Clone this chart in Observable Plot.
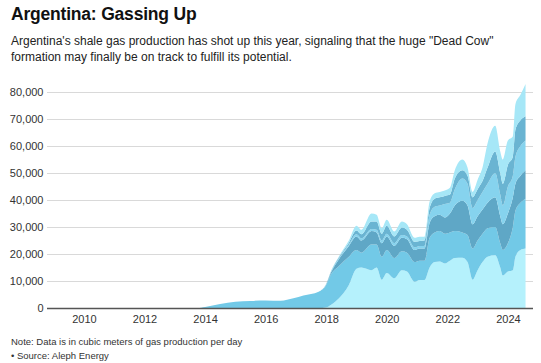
<!DOCTYPE html>
<html>
<head>
<meta charset="utf-8">
<script src="https://cdn.jsdelivr.net/npm/d3@7"></script>
<script src="https://cdn.jsdelivr.net/npm/@observablehq/plot@0.6"></script>
<style>
  html, body { margin: 0; padding: 0; background: #fff; }
  body { width: 541px; height: 363px; position: relative; overflow: hidden; font-family: "Liberation Sans", Arial, Helvetica, sans-serif; }
  #title { position: absolute; left: 11px; top: 4px; font-size: 17.5px; font-weight: bold; color: #111; letter-spacing: -0.2px; }
  #subtitle { position: absolute; left: 11px; top: 33px; font-size: 12px; line-height: 16px; color: #222; }
  #chart { position: absolute; left: 0; top: 70px; }
  #note { position: absolute; left: 11px; top: 335px; font-size: 9.5px; line-height: 14px; color: #333; }
</style>
</head>
<body>
<div id="title">Argentina: Gassing Up</div>
<div id="subtitle">Argentina's shale gas production has shot up this year, signaling that the huge "Dead Cow"<br>formation may finally be on track to fulfill its potential.</div>
<div id="chart"></div>
<div id="note">Note: Data is in cubic meters of gas production per day<br>• Source: Aleph Energy</div>
<script>
const dates = ["2008-11","2013-10","2014-01","2014-07","2015-01","2015-07","2016-01","2016-07","2016-12","2017-04","2017-10",
  "2018-01","2018-03","2018-06","2018-10","2019-01","2019-03","2019-07","2019-09","2019-11","2020-01","2020-04","2020-07","2020-09","2020-12",
  "2021-02","2021-04","2021-06","2021-08","2021-10","2021-12","2022-02","2022-04","2022-07","2022-09","2022-11",
  "2023-01","2023-03","2023-05","2023-08","2023-10","2023-11","2024-01","2024-03","2024-04","2024-06","2024-08"];

const layerNames = ["Layer 1","Layer 2","Layer 3","Layer 4","Layer 5","Layer 6"];
const layerColors = ["#b5f1fc","#72c9e7","#5fa7c6","#86d3ee","#6ab4d2","#a6e7f7"];

const layer1 = [0,0,0,0,0,0,0,0,0,0,0,200,1200,3500,8500,14500,15000,14000,15000,10500,13000,11000,14000,13500,9700,10400,10400,15000,17000,17200,16500,17500,18500,18600,17000,10500,14000,17000,19000,19500,15000,12000,13500,14000,19000,21500,22000];
const layer2 = [0,0,400,1500,2300,2600,2800,2700,3600,4600,6000,8300,11300,12000,10500,7000,5500,9500,8500,8500,8500,7500,7000,7000,7300,7100,7100,11000,11000,11300,11000,10500,10000,9400,10000,11500,11000,10500,10500,10500,9000,9500,10500,16000,17000,17500,18500];
const layer3 = [0,0,0,0,0,0,0,0,0,0,0,200,700,2500,4000,5000,4500,5000,4500,5000,5000,4500,5000,5000,4500,4500,4500,5500,6000,6000,6000,7000,9500,11700,11000,9000,9000,9000,9500,11000,10000,9500,11000,11000,10000,10000,10500];
const layer4 = [0,0,0,0,0,0,0,0,0,0,0,100,200,300,500,800,800,800,1000,1000,1000,1000,1000,1000,1000,1000,1000,3000,3500,3500,5000,4000,6000,8300,8000,6000,6000,6500,7000,9000,8000,7000,10000,8000,10000,11000,11000];
const layer5 = [0,0,0,0,0,0,0,0,0,0,0,100,200,400,700,1400,1500,2700,3000,2500,3000,2500,2800,2500,2000,1800,2000,2500,3000,3000,3000,3000,4000,3000,3000,4000,4000,4000,6000,8000,8000,8000,8000,7000,10000,9500,9000];
const layer6 = [0,0,0,0,0,0,0,0,0,0,0,100,200,300,800,1800,1700,3000,2500,2000,2200,1800,2200,2000,1500,1600,1400,2400,2000,2000,2000,2500,3000,4000,3000,2000,3500,5000,9000,9500,8000,9000,9000,7500,9500,9500,12000];

const yTicks = [0,10000,20000,30000,40000,50000,60000,70000,80000];
const xTickYears = [2010,2012,2014,2016,2018,2020,2022,2024];

const series = [layer1, layer2, layer3, layer4, layer5, layer6];
const parse = d3.utcParse("%Y-%m");
const rows = [];
series.forEach((vals, i) => {
  vals.forEach((v, j) => rows.push({date: parse(dates[j]), layer: layerNames[i], value: v}));
});

const chart = Plot.plot({
  width: 541,
  height: 260,
  marginLeft: 47,
  marginRight: 8,
  marginTop: 22,
  marginBottom: 22,
  style: {fontFamily: '"Liberation Sans", Arial, Helvetica, sans-serif', fontSize: "11px", color: "#333", background: "#fff"},
  x: {type: "utc", domain: [new Date(Date.UTC(2008, 9, 12)), new Date(Date.UTC(2024, 9, 30))]},
  y: {domain: [0, 80000]},
  color: {domain: layerNames, range: layerColors},
  marks: [
    Plot.gridY(yTicks, {stroke: "#d9d9d9", strokeOpacity: 1, strokeWidth: 1}),
    Plot.areaY(rows, {x: "date", y: "value", fill: "layer", order: layerNames, curve: "monotone-x"}),
    Plot.ruleY([0], {stroke: "#555", strokeWidth: 1.5}),
    Plot.axisY(yTicks, {tickSize: 0, tickPadding: 4, tickFormat: d3.format(","), fill: "#333", label: null}),
    Plot.axisX(xTickYears.map(y => new Date(Date.UTC(y, 0, 1))), {tickSize: 0, tickPadding: 7, tickFormat: d3.utcFormat("%Y"), fill: "#333", label: null})
  ]
});
document.getElementById("chart").appendChild(chart);
</script>
</body>
</html>
